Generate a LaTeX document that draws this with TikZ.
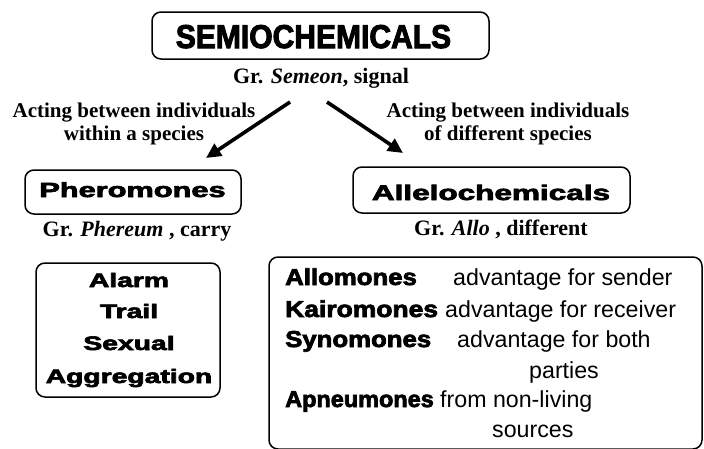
\documentclass[tikz,border=0pt]{standalone}
\usepackage{fontspec}
\usepackage{graphicx}
\setmainfont{Liberation Serif}
\newfontfamily\heavy{Liberation Sans}[BoldFeatures={FakeBold=3}]
\newfontfamily\plainsans{Liberation Sans}
\usetikzlibrary{arrows.meta}
\newcommand{\hv}[3]{\scalebox{#2}[1]{\heavy\bfseries\fontsize{#1}{#1}\selectfont #3}}
\tikzset{
  box/.style={draw, line width=1.5pt, rounded corners=9pt},
  tms/.style={font=\bfseries\fontsize{21}{23}\selectfont, inner sep=0pt, anchor=base},
  grk/.style={font=\bfseries\fontsize{22}{24}\selectfont, inner sep=0pt, anchor=base},
  bigarrow/.style={line width=3.6pt, -{Triangle[length=15pt,width=14pt]}},
  nm/.style={anchor=base west, inner sep=0pt},
  ds/.style={anchor=base west, inner sep=0pt, font=\plainsans\fontsize{23.2}{24}\selectfont},
  lst/.style={anchor=base, inner sep=0pt}
}
\begin{document}
\begin{tikzpicture}[x=1pt,y=-1pt]
\useasboundingbox (0,0) rectangle (704,448);
% title
\draw[box] (152,12) rectangle (489,59);
\node[lst] (title) at (313.5,48) {\hv{33}{0.91}{SEMIOCHEMICALS}};
\node[grk] (semeon) at (321,83) {Gr. \textit{Semeon}, signal};
% labels
\node[tms] (lab1a) at (134,117) {Acting between individuals};
\node[tms] (lab1b) at (134,140) {within a species};
\node[tms] (lab2a) at (508,117) {Acting between individuals};
\node[tms] (lab2b) at (508,140) {of different species};
% arrows
\coordinate (a1s) at (290,102);
\coordinate (a1e) at (206,158);
\coordinate (a2s) at (327,102);
\coordinate (a2e) at (403,153);
\draw[bigarrow] (a1s) -- (a1e);
\draw[bigarrow] (a2s) -- (a2e);
% pheromones
\draw[box] (25,170) rectangle (241,214);
\node[lst] (pher) at (132.5,197) {\hv{20.5}{1.5}{Pheromones}};
\node[grk] (phg) at (137,236) {Gr. \textit{Phereum} , carry};
% allelochemicals
\draw[box] (353,167) rectangle (630,213);
\node[lst] (alle) at (491,200) {\hv{21}{1.5}{Allelochemicals}};
\node[grk] (alg) at (501,235) {Gr. \textit{Allo} , different};
% pheromone list
\draw[box] (36,263) rectangle (220,397);
\node[lst] (alarm) at (129,287) {\hv{19.5}{1.45}{Alarm}};
\node[lst] (trail) at (129,318) {\hv{19.5}{1.45}{Trail}};
\node[lst] (sexual) at (129,350) {\hv{19.5}{1.45}{Sexual}};
\node[lst] (aggr) at (129,383) {\hv{19.5}{1.45}{Aggregation}};
% allelochemical list
\draw[box] (269,257) rectangle (702,449);
\node[nm] (allo) at (285,285) {\hv{23}{1.12}{Allomones}};
\node[ds] (allod) at (453,285) {advantage for sender};
\node[nm] (kairo) at (285,317) {\hv{23}{1.15}{Kairomones}};
\node[ds] (kairod) at (445,317) {advantage for receiver};
\node[nm] (syno) at (285,347) {\hv{23}{1.12}{Synomones}};
\node[ds] (synod) at (457,347) {advantage for both};
\node[ds] (synod2) at (529,378) {parties};
\node[nm] (apne) at (285,407) {\hv{23}{1.02}{Apneumones}};
\node[ds] (apned) at (440,407) {from non-living};
\node[ds] (apned2) at (492,437) {sources};
\end{tikzpicture}
\end{document}
